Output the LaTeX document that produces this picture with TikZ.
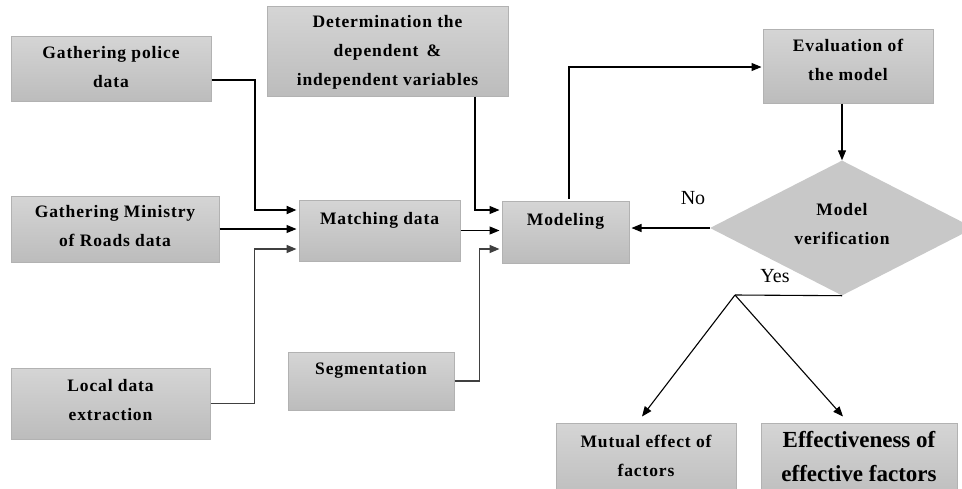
\documentclass[tikz,border=0pt]{standalone}
\usepackage{fontspec}
\setmainfont{Liberation Serif}
\newfontfamily\boxfont[LetterSpace=5]{Liberation Serif}
\usetikzlibrary{shapes.geometric,arrows.meta,calc}
\definecolor{boxtop}{RGB}{213,213,213}
\definecolor{boxbot}{RGB}{188,188,188}
\definecolor{boxline}{RGB}{178,178,178}
\definecolor{diamfill}{RGB}{200,200,200}
\begin{document}
\begin{tikzpicture}[x=1pt,y=-1pt,
  box/.style={rectangle, draw=boxline, line width=1pt, top color=boxtop, bottom color=boxbot, inner sep=0pt},
  btext/.style={align=center, font=\boxfont\bfseries\fontsize{17.5}{29}\selectfont, inner sep=0pt},
  bigtext/.style={align=center, font=\bfseries\fontsize{23}{34}\selectfont, inner sep=0pt},
  lab/.style={font=\fontsize{20}{24}\selectfont, inner sep=0pt},
  arr/.style={-{Triangle[length=10pt,width=8pt]}, line width=1.1pt, black},
  thickarr/.style={-{Triangle[length=10pt,width=8pt]}, line width=2pt, black},
  greyarr/.style={-{Triangle[length=10pt,width=8pt]}, line width=1.5pt, black!75}]
\useasboundingbox (0,0) rectangle (962,488);
\clip (0,0) rectangle (962,488);
\fill[white] (0,0) rectangle (962,488);

% boxes
\node[box, minimum width=200pt, minimum height=65pt] (police) at (111,68.5) {};
\node[btext] (policet) at (111,67) {Gathering police\\data};
\node[box, minimum width=208pt, minimum height=66pt] (ministry) at (115,229) {};
\node[btext] (ministryt) at (115,226) {Gathering Ministry\\of Roads data};
\node[box, minimum width=199pt, minimum height=71pt] (local) at (110.5,403.5) {};
\node[btext] (localt) at (110.5,400) {Local data\\extraction};
\node[box, minimum width=241pt, minimum height=90pt] (determ) at (387.5,51) {};
\node[btext] (determt) at (387.5,52) {Determination the\\dependent \,\&\\independent variables};
\node[box, minimum width=161pt, minimum height=61pt] (matching) at (379.5,230.5) {};
\node[btext] (matchingt) at (379.5,220) {Matching data};
\node[box, minimum width=166pt, minimum height=58pt] (segm) at (371,381) {};
\node[btext] (segmt) at (371,370) {Segmentation};
\node[box, minimum width=127pt, minimum height=62pt] (modeling) at (565.5,232) {};
\node[btext] (modelingt) at (565.5,221) {Modeling};
\node[box, minimum width=170pt, minimum height=74pt] (eval) at (848,66) {};
\node[btext] (evalt) at (848,59.5) {Evaluation of\\the model};
\node[diamond, fill=diamfill, minimum width=264pt, minimum height=135pt, inner sep=0pt] (verif) at (842,228) {};
\node[btext] (verift) at (842,224) {Model\\verification};
\node[box, minimum width=180pt, minimum height=80pt] (mutual) at (646,463) {};
\node[btext] (mutualt) at (646,455.5) {Mutual effect of\\factors};
\node[box, minimum width=196pt, minimum height=80pt] (effect) at (859,463) {};
\node[bigtext] (effectt) at (859,457) {Effectiveness of\\effective factors};

% labels
\node[lab] (nolab) at (693,198) {No};
\node[lab] (yeslab) at (775,276) {Yes};

% connectors
\draw[thickarr] ($(police.east)+(0,11.5)$) -- ++(43,0) |- ($(matching.west)+(-2,-20.5)$);
\draw[arr] (ministry.east) -- ($(ministry.east -| matching.west)+(-2,0)$);
\draw[greyarr] (local.east) -- ++(44,0) |- ($(matching.west)+(-2,18.5)$);
\draw[arr] ($(determ.south)+(87.5,0)$) |- ($(modeling.west)+(-2,-22)$);
\draw[arr] (matching.east) -- ($(matching.east -| modeling.west)+(-2,0)$);
\draw[greyarr] (segm.east) -- ++(25,0) |- ($(modeling.west)+(-2,17)$);
\draw[arr] ($(modeling.north)+(3.5,-2)$) |- ($(eval.west)+(-1,1)$);
\draw[arr] (eval.south -| verif.north) -- (verif.north);
\draw[arr] (verif.west) -- ($(verif.west -| modeling.east)+(2,0)$);
\coordinate (yesfork) at (735,295);
\draw[line width=1.1pt] (verif.south) -- (yesfork);
\draw[arr] (yesfork) -- ($(mutual.north)+(-4,-6)$);
\draw[arr] (yesfork) -- ($(effect.north)+(-16,-6)$);
\end{tikzpicture}
\end{document}
